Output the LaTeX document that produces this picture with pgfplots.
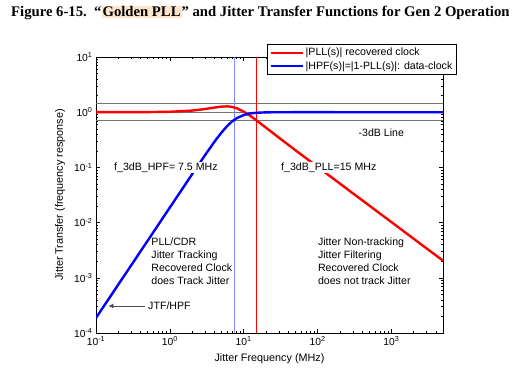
\documentclass[border=0pt]{standalone}
\usepackage{pgfplots}
\pgfplotsset{compat=1.18}
\usetikzlibrary{arrows.meta}
\usepackage{fontspec}
\setmainfont{Liberation Sans}
\newfontfamily\titlefont{Liberation Serif}
\definecolor{hl}{RGB}{253,229,204}
\definecolor{lblue}{RGB}{135,135,255}
\begin{document}
\begin{tikzpicture}
\useasboundingbox (0pt,0pt) rectangle (524pt,380pt);
\node[anchor=west,inner sep=0pt] at (11pt,367pt) {\titlefont\bfseries\fontsize{14.7}{17}\selectfont Figure 6-15.\ \ “{\setlength{\fboxsep}{1pt}\colorbox{hl}{Golden PLL}}” and Jitter Transfer Functions for Gen 2 Operation};
\begin{axis}[
  at={(96pt,47pt)}, anchor=south west,
  scale only axis, width=347pt, height=276pt,
  xmode=log, ymode=log,
  xmin=0.1, xmax=5000, ymin=1e-4, ymax=10,
  xtick={0.1,1,10,100,1000},
  xticklabels={10\textsuperscript{-1},10\textsuperscript{0},10\textsuperscript{1},10\textsuperscript{2},10\textsuperscript{3}},
  ytick={1e-4,1e-3,1e-2,1e-1,1,10},
  yticklabels={10\textsuperscript{-4},10\textsuperscript{-3},10\textsuperscript{-2},10\textsuperscript{-1},10\textsuperscript{0},10\textsuperscript{1}},
  minor xtick={0.2,0.3,0.4,0.5,0.6,0.7,0.8,0.9,2,3,4,5,6,7,8,9,20,30,40,50,60,70,80,90,200,300,400,500,600,700,800,900,2000,3000,4000},
  minor ytick={2e-4,3e-4,4e-4,5e-4,6e-4,7e-4,8e-4,9e-4,2e-3,3e-3,4e-3,5e-3,6e-3,7e-3,8e-3,9e-3,2e-2,3e-2,4e-2,5e-2,6e-2,7e-2,8e-2,9e-2,0.2,0.3,0.4,0.5,0.6,0.7,0.8,0.9,2,3,4,5,6,7,8,9},
  tick align=inside,
  major tick length=4pt, minor tick length=2pt,
  tick style={black, line width=0.5pt},
  axis line style={black, line width=0.6pt},
  ticklabel style={font=\fontsize{10.3}{11}\selectfont},
  xlabel={Jitter Frequency (MHz)},
  ylabel={Jitter Transfer (frequency response)},
  label style={font=\fontsize{10.8}{12}\selectfont},
  xlabel style={yshift=-2pt},
  ylabel style={yshift=2pt},
  legend style={at={(rel axis cs:0.493,1.047)}, anchor=north west, draw=black, line width=0.5pt, font=\fontsize{10.6}{12}\selectfont, legend cell align=left, inner sep=2pt, row sep=0pt},
  legend image code/.code={\draw[#1] (0pt,0pt) -- (32pt,0pt);},
  legend image post style={line width=2.4pt},
  clip=true,
]
% reference lines
\addplot[black!55, line width=0.8pt, forget plot] coordinates {(0.1,1.414) (5000,1.414)};
\addplot[black!55, line width=0.8pt, forget plot] coordinates {(0.1,1) (5000,1)};
\addplot[black!55, line width=0.8pt, forget plot] coordinates {(0.1,0.707) (5000,0.707)};
\addplot[lblue, line width=0.7pt, forget plot] coordinates {(7.5,1e-4) (7.5,10)};
\addplot[red, line width=0.7pt, forget plot] coordinates {(15,1e-4) (15,10)};
% PLL
\addplot[red, line width=2.4pt] coordinates {
(0.1,1.0002) (0.2,1.0007) (0.5,1.0047) (1,1.0184) (2,1.0696) (3,1.1414) (4,1.2138) (5,1.2640) (6,1.2751) (7,1.2447) (8,1.1836) (10,1.0257) (12,0.8766) (15,0.7051) (20,0.5248) (30,0.3456) (50,0.2056) (100,0.10235) (200,0.05112) (500,0.02044) (1000,0.01022) (2000,0.00511) (5000,0.002044)};
\addlegendentry{|PLL(s)| recovered clock}
% HPF
\addplot[blue, line width=2.4pt] coordinates {
(0.1,1.877e-4) (0.2,7.51e-4) (0.5,0.00469) (1,0.01877) (2,0.07496) (3,0.16708) (4,0.28917) (5,0.42802) (6,0.56505) (7,0.68370) (8,0.77615) (10,0.88993) (12,0.94401) (15,0.97748) (20,0.99384) (30,0.99944) (50,1.0002) (100,1.0001) (200,1.0) (500,1.0) (1000,1.0) (2000,1.0) (5000,1.0)};
\addlegendentry{|HPF(s)|=|1-PLL(s)|: data-clock}
% annotations
\node[fill=white, inner sep=1pt, font=\fontsize{10.6}{12}\selectfont, anchor=west] at (axis cs:0.17,0.1) {f\_3dB\_HPF= 7.5 MHz};
\node[fill=white, inner sep=1pt, font=\fontsize{10.6}{12}\selectfont, anchor=west] at (axis cs:31,0.1) {f\_3dB\_PLL=15 MHz};
\node[font=\fontsize{10.6}{12}\selectfont, anchor=center] at (axis cs:730,0.43) {-3dB Line};
\node[font=\fontsize{10.6}{12.7}\selectfont, anchor=west, align=left, inner sep=0pt] at (axis cs:0.56,2.0e-3) {PLL/CDR\\Jitter Tracking\\Recovered Clock\\does Track Jitter};
\node[font=\fontsize{10.6}{12.7}\selectfont, anchor=west, align=left, inner sep=0pt] at (axis cs:101,2.0e-3) {Jitter Non-tracking\\Jitter Filtering\\Recovered Clock\\does not track Jitter};
\node[font=\fontsize{10.6}{12}\selectfont, anchor=west, inner sep=0pt] at (rel axis cs:0.150,0.098) {JTF/HPF};
\draw[-{Latex[length=5pt,width=5pt]}, line width=0.5pt, black!70] (rel axis cs:0.141,0.098) -- (rel axis cs:0.036,0.098);
\end{axis}
\end{tikzpicture}
\end{document}
